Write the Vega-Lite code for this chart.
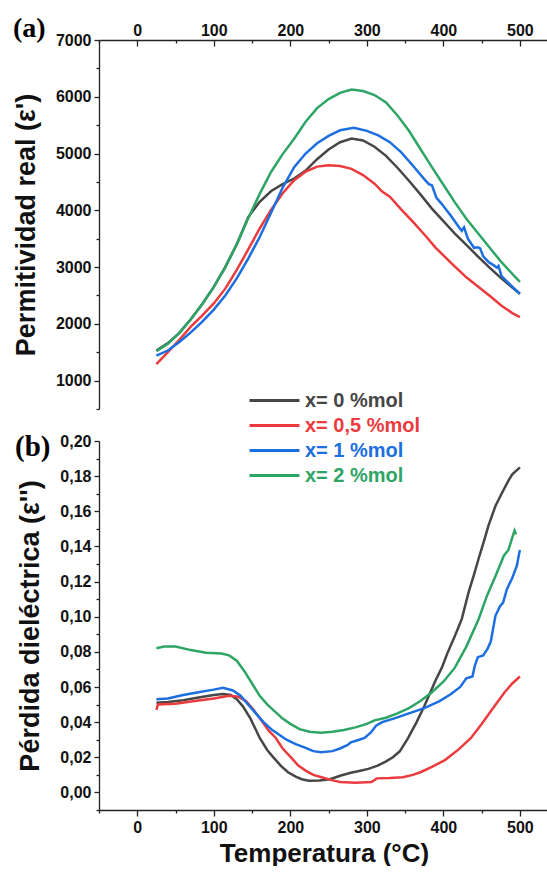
{
  "$schema": "https://vega.github.io/schema/vega-lite/v6.json",
  "background": "white",
  "padding": {"left": 12, "top": 15, "right": 0, "bottom": 0},
  "spacing": 32,
  "bounds": "flush",
  "config": {
    "view": {"stroke": null},
    "axis": {"labelFont": "Liberation Sans", "labelFontWeight": "bold", "labelFontSize": 16, "labelColor": "#111", "titleFont": "Liberation Sans", "titleFontWeight": "bold", "titleFontSize": 27, "titleColor": "#111", "domainColor": "#222", "tickColor": "#222", "domainWidth": 1.3, "tickWidth": 1.3, "grid": false}
  },
  "resolve": {"scale": {"color": "independent"}},
  "datasets": {
    "perm": [
      {"s":"x= 0 %mol","T":25,"v":1530},{"s":"x= 0 %mol","T":40,"v":1660},{"s":"x= 0 %mol","T":55,"v":1840},{"s":"x= 0 %mol","T":70,"v":2080},{"s":"x= 0 %mol","T":85,"v":2350},{"s":"x= 0 %mol","T":100,"v":2650},{"s":"x= 0 %mol","T":115,"v":3000},{"s":"x= 0 %mol","T":130,"v":3400},{"s":"x= 0 %mol","T":145,"v":3880},{"s":"x= 0 %mol","T":160,"v":4150},{"s":"x= 0 %mol","T":175,"v":4340},{"s":"x= 0 %mol","T":190,"v":4460},{"s":"x= 0 %mol","T":205,"v":4560},{"s":"x= 0 %mol","T":220,"v":4700},{"s":"x= 0 %mol","T":235,"v":4900},{"s":"x= 0 %mol","T":250,"v":5070},{"s":"x= 0 %mol","T":265,"v":5200},{"s":"x= 0 %mol","T":280,"v":5263},{"s":"x= 0 %mol","T":295,"v":5230},{"s":"x= 0 %mol","T":310,"v":5120},{"s":"x= 0 %mol","T":325,"v":4960},{"s":"x= 0 %mol","T":340,"v":4750},{"s":"x= 0 %mol","T":355,"v":4520},{"s":"x= 0 %mol","T":370,"v":4280},{"s":"x= 0 %mol","T":385,"v":4030},{"s":"x= 0 %mol","T":400,"v":3810},{"s":"x= 0 %mol","T":415,"v":3590},{"s":"x= 0 %mol","T":430,"v":3390},{"s":"x= 0 %mol","T":445,"v":3190},{"s":"x= 0 %mol","T":460,"v":2995},{"s":"x= 0 %mol","T":475,"v":2810},{"s":"x= 0 %mol","T":490,"v":2640},{"s":"x= 0 %mol","T":500,"v":2530},
      {"s":"x= 0,5 %mol","T":25,"v":1290},{"s":"x= 0,5 %mol","T":40,"v":1500},{"s":"x= 0,5 %mol","T":55,"v":1720},{"s":"x= 0,5 %mol","T":70,"v":1950},{"s":"x= 0,5 %mol","T":85,"v":2150},{"s":"x= 0,5 %mol","T":100,"v":2360},{"s":"x= 0,5 %mol","T":115,"v":2620},{"s":"x= 0,5 %mol","T":130,"v":2950},{"s":"x= 0,5 %mol","T":145,"v":3310},{"s":"x= 0,5 %mol","T":160,"v":3680},{"s":"x= 0,5 %mol","T":175,"v":4010},{"s":"x= 0,5 %mol","T":190,"v":4300},{"s":"x= 0,5 %mol","T":205,"v":4530},{"s":"x= 0,5 %mol","T":220,"v":4680},{"s":"x= 0,5 %mol","T":235,"v":4770},{"s":"x= 0,5 %mol","T":250,"v":4795},{"s":"x= 0,5 %mol","T":265,"v":4780},{"s":"x= 0,5 %mol","T":280,"v":4730},{"s":"x= 0,5 %mol","T":295,"v":4620},{"s":"x= 0,5 %mol","T":310,"v":4470},{"s":"x= 0,5 %mol","T":320,"v":4330},{"s":"x= 0,5 %mol","T":330,"v":4240},{"s":"x= 0,5 %mol","T":346,"v":4000},{"s":"x= 0,5 %mol","T":360,"v":3800},{"s":"x= 0,5 %mol","T":376,"v":3560},{"s":"x= 0,5 %mol","T":390,"v":3340},{"s":"x= 0,5 %mol","T":411,"v":3060},{"s":"x= 0,5 %mol","T":430,"v":2820},{"s":"x= 0,5 %mol","T":446,"v":2650},{"s":"x= 0,5 %mol","T":460,"v":2500},{"s":"x= 0,5 %mol","T":476,"v":2320},{"s":"x= 0,5 %mol","T":490,"v":2190},{"s":"x= 0,5 %mol","T":500,"v":2120},
      {"s":"x= 1 %mol","T":25,"v":1440},{"s":"x= 1 %mol","T":40,"v":1530},{"s":"x= 1 %mol","T":55,"v":1680},{"s":"x= 1 %mol","T":70,"v":1850},{"s":"x= 1 %mol","T":85,"v":2040},{"s":"x= 1 %mol","T":100,"v":2250},{"s":"x= 1 %mol","T":115,"v":2500},{"s":"x= 1 %mol","T":130,"v":2800},{"s":"x= 1 %mol","T":145,"v":3150},{"s":"x= 1 %mol","T":160,"v":3530},{"s":"x= 1 %mol","T":175,"v":3960},{"s":"x= 1 %mol","T":190,"v":4400},{"s":"x= 1 %mol","T":205,"v":4760},{"s":"x= 1 %mol","T":220,"v":5000},{"s":"x= 1 %mol","T":235,"v":5180},{"s":"x= 1 %mol","T":250,"v":5310},{"s":"x= 1 %mol","T":265,"v":5410},{"s":"x= 1 %mol","T":283,"v":5455},{"s":"x= 1 %mol","T":300,"v":5400},{"s":"x= 1 %mol","T":315,"v":5320},{"s":"x= 1 %mol","T":330,"v":5200},{"s":"x= 1 %mol","T":345,"v":5020},{"s":"x= 1 %mol","T":360,"v":4790},{"s":"x= 1 %mol","T":375,"v":4550},{"s":"x= 1 %mol","T":381,"v":4460},{"s":"x= 1 %mol","T":385,"v":4440},{"s":"x= 1 %mol","T":391,"v":4220},{"s":"x= 1 %mol","T":398,"v":4110},{"s":"x= 1 %mol","T":410,"v":3900},{"s":"x= 1 %mol","T":420,"v":3710},{"s":"x= 1 %mol","T":424,"v":3640},{"s":"x= 1 %mol","T":427,"v":3700},{"s":"x= 1 %mol","T":432,"v":3500},{"s":"x= 1 %mol","T":440,"v":3340},{"s":"x= 1 %mol","T":445,"v":3350},{"s":"x= 1 %mol","T":448,"v":3330},{"s":"x= 1 %mol","T":452,"v":3190},{"s":"x= 1 %mol","T":459,"v":3090},{"s":"x= 1 %mol","T":466,"v":3030},{"s":"x= 1 %mol","T":470,"v":2990},{"s":"x= 1 %mol","T":472,"v":3020},{"s":"x= 1 %mol","T":476,"v":2840},{"s":"x= 1 %mol","T":485,"v":2720},{"s":"x= 1 %mol","T":492,"v":2630},{"s":"x= 1 %mol","T":500,"v":2530},
      {"s":"x= 2 %mol","T":25,"v":1520},{"s":"x= 2 %mol","T":40,"v":1650},{"s":"x= 2 %mol","T":55,"v":1840},{"s":"x= 2 %mol","T":70,"v":2080},{"s":"x= 2 %mol","T":85,"v":2350},{"s":"x= 2 %mol","T":100,"v":2650},{"s":"x= 2 %mol","T":115,"v":3000},{"s":"x= 2 %mol","T":130,"v":3400},{"s":"x= 2 %mol","T":145,"v":3860},{"s":"x= 2 %mol","T":160,"v":4290},{"s":"x= 2 %mol","T":175,"v":4680},{"s":"x= 2 %mol","T":190,"v":4990},{"s":"x= 2 %mol","T":205,"v":5260},{"s":"x= 2 %mol","T":220,"v":5560},{"s":"x= 2 %mol","T":235,"v":5800},{"s":"x= 2 %mol","T":250,"v":5960},{"s":"x= 2 %mol","T":265,"v":6070},{"s":"x= 2 %mol","T":280,"v":6127},{"s":"x= 2 %mol","T":295,"v":6100},{"s":"x= 2 %mol","T":310,"v":6030},{"s":"x= 2 %mol","T":325,"v":5900},{"s":"x= 2 %mol","T":340,"v":5670},{"s":"x= 2 %mol","T":355,"v":5400},{"s":"x= 2 %mol","T":370,"v":5080},{"s":"x= 2 %mol","T":385,"v":4760},{"s":"x= 2 %mol","T":400,"v":4450},{"s":"x= 2 %mol","T":415,"v":4140},{"s":"x= 2 %mol","T":430,"v":3850},{"s":"x= 2 %mol","T":445,"v":3600},{"s":"x= 2 %mol","T":460,"v":3350},{"s":"x= 2 %mol","T":475,"v":3100},{"s":"x= 2 %mol","T":490,"v":2880},{"s":"x= 2 %mol","T":500,"v":2740}
    ],
    "loss": [
      {"s":"x= 0 %mol","T":25,"v":0.051},{"s":"x= 0 %mol","T":40,"v":0.0515},{"s":"x= 0 %mol","T":60,"v":0.0525},{"s":"x= 0 %mol","T":80,"v":0.054},{"s":"x= 0 %mol","T":100,"v":0.0555},{"s":"x= 0 %mol","T":112,"v":0.056},{"s":"x= 0 %mol","T":122,"v":0.0555},{"s":"x= 0 %mol","T":130,"v":0.053},{"s":"x= 0 %mol","T":138,"v":0.049},{"s":"x= 0 %mol","T":148,"v":0.042},{"s":"x= 0 %mol","T":160,"v":0.031},{"s":"x= 0 %mol","T":170,"v":0.024},{"s":"x= 0 %mol","T":179,"v":0.0194},{"s":"x= 0 %mol","T":188,"v":0.015},{"s":"x= 0 %mol","T":197,"v":0.0115},{"s":"x= 0 %mol","T":207,"v":0.009},{"s":"x= 0 %mol","T":215,"v":0.0075},{"s":"x= 0 %mol","T":224,"v":0.0066},{"s":"x= 0 %mol","T":238,"v":0.0068},{"s":"x= 0 %mol","T":252,"v":0.0075},{"s":"x= 0 %mol","T":265,"v":0.0095},{"s":"x= 0 %mol","T":279,"v":0.0112},{"s":"x= 0 %mol","T":290,"v":0.0122},{"s":"x= 0 %mol","T":302,"v":0.0134},{"s":"x= 0 %mol","T":314,"v":0.0152},{"s":"x= 0 %mol","T":324,"v":0.0174},{"s":"x= 0 %mol","T":334,"v":0.02},{"s":"x= 0 %mol","T":343,"v":0.0234},{"s":"x= 0 %mol","T":354,"v":0.031},{"s":"x= 0 %mol","T":365,"v":0.04},{"s":"x= 0 %mol","T":375,"v":0.049},{"s":"x= 0 %mol","T":383,"v":0.057},{"s":"x= 0 %mol","T":390,"v":0.064},{"s":"x= 0 %mol","T":398,"v":0.071},{"s":"x= 0 %mol","T":405,"v":0.079},{"s":"x= 0 %mol","T":415,"v":0.089},{"s":"x= 0 %mol","T":424,"v":0.0986},{"s":"x= 0 %mol","T":433,"v":0.114},{"s":"x= 0 %mol","T":440,"v":0.124},{"s":"x= 0 %mol","T":446,"v":0.133},{"s":"x= 0 %mol","T":453,"v":0.143},{"s":"x= 0 %mol","T":459,"v":0.152},{"s":"x= 0 %mol","T":468,"v":0.163},{"s":"x= 0 %mol","T":476,"v":0.17},{"s":"x= 0 %mol","T":485,"v":0.1774},{"s":"x= 0 %mol","T":490,"v":0.181},{"s":"x= 0 %mol","T":495,"v":0.183},{"s":"x= 0 %mol","T":500,"v":0.185},
      {"s":"x= 0,5 %mol","T":25,"v":0.047},{"s":"x= 0,5 %mol","T":27,"v":0.05},{"s":"x= 0,5 %mol","T":50,"v":0.0505},{"s":"x= 0,5 %mol","T":75,"v":0.052},{"s":"x= 0,5 %mol","T":100,"v":0.0535},{"s":"x= 0,5 %mol","T":120,"v":0.055},{"s":"x= 0,5 %mol","T":132,"v":0.0545},{"s":"x= 0,5 %mol","T":142,"v":0.052},{"s":"x= 0,5 %mol","T":152,"v":0.047},{"s":"x= 0,5 %mol","T":162,"v":0.041},{"s":"x= 0,5 %mol","T":172,"v":0.035},{"s":"x= 0,5 %mol","T":181,"v":0.031},{"s":"x= 0,5 %mol","T":190,"v":0.025},{"s":"x= 0,5 %mol","T":202,"v":0.0194},{"s":"x= 0,5 %mol","T":210,"v":0.0155},{"s":"x= 0,5 %mol","T":220,"v":0.0124},{"s":"x= 0,5 %mol","T":230,"v":0.01},{"s":"x= 0,5 %mol","T":242,"v":0.0085},{"s":"x= 0,5 %mol","T":254,"v":0.007},{"s":"x= 0,5 %mol","T":265,"v":0.006},{"s":"x= 0,5 %mol","T":285,"v":0.0055},{"s":"x= 0,5 %mol","T":306,"v":0.0059},{"s":"x= 0,5 %mol","T":313,"v":0.008},{"s":"x= 0,5 %mol","T":330,"v":0.0082},{"s":"x= 0,5 %mol","T":347,"v":0.0086},{"s":"x= 0,5 %mol","T":360,"v":0.01},{"s":"x= 0,5 %mol","T":370,"v":0.0115},{"s":"x= 0,5 %mol","T":385,"v":0.0145},{"s":"x= 0,5 %mol","T":402,"v":0.0184},{"s":"x= 0,5 %mol","T":420,"v":0.0245},{"s":"x= 0,5 %mol","T":436,"v":0.031},{"s":"x= 0,5 %mol","T":450,"v":0.039},{"s":"x= 0,5 %mol","T":465,"v":0.048},{"s":"x= 0,5 %mol","T":480,"v":0.057},{"s":"x= 0,5 %mol","T":490,"v":0.062},{"s":"x= 0,5 %mol","T":500,"v":0.066},
      {"s":"x= 1 %mol","T":25,"v":0.053},{"s":"x= 1 %mol","T":40,"v":0.0535},{"s":"x= 1 %mol","T":60,"v":0.0555},{"s":"x= 1 %mol","T":80,"v":0.057},{"s":"x= 1 %mol","T":100,"v":0.0585},{"s":"x= 1 %mol","T":112,"v":0.0595},{"s":"x= 1 %mol","T":125,"v":0.058},{"s":"x= 1 %mol","T":135,"v":0.055},{"s":"x= 1 %mol","T":145,"v":0.05},{"s":"x= 1 %mol","T":155,"v":0.045},{"s":"x= 1 %mol","T":165,"v":0.04},{"s":"x= 1 %mol","T":175,"v":0.036},{"s":"x= 1 %mol","T":185,"v":0.033},{"s":"x= 1 %mol","T":195,"v":0.03},{"s":"x= 1 %mol","T":207,"v":0.0275},{"s":"x= 1 %mol","T":220,"v":0.0254},{"s":"x= 1 %mol","T":230,"v":0.0235},{"s":"x= 1 %mol","T":240,"v":0.0229},{"s":"x= 1 %mol","T":255,"v":0.0235},{"s":"x= 1 %mol","T":265,"v":0.025},{"s":"x= 1 %mol","T":275,"v":0.027},{"s":"x= 1 %mol","T":279,"v":0.0285},{"s":"x= 1 %mol","T":290,"v":0.03},{"s":"x= 1 %mol","T":297,"v":0.031},{"s":"x= 1 %mol","T":305,"v":0.034},{"s":"x= 1 %mol","T":312,"v":0.038},{"s":"x= 1 %mol","T":320,"v":0.04},{"s":"x= 1 %mol","T":335,"v":0.042},{"s":"x= 1 %mol","T":355,"v":0.045},{"s":"x= 1 %mol","T":375,"v":0.048},{"s":"x= 1 %mol","T":395,"v":0.052},{"s":"x= 1 %mol","T":410,"v":0.056},{"s":"x= 1 %mol","T":422,"v":0.06},{"s":"x= 1 %mol","T":430,"v":0.065},{"s":"x= 1 %mol","T":438,"v":0.066},{"s":"x= 1 %mol","T":441,"v":0.072},{"s":"x= 1 %mol","T":445,"v":0.077},{"s":"x= 1 %mol","T":452,"v":0.078},{"s":"x= 1 %mol","T":458,"v":0.082},{"s":"x= 1 %mol","T":462,"v":0.086},{"s":"x= 1 %mol","T":468,"v":0.1005},{"s":"x= 1 %mol","T":474,"v":0.106},{"s":"x= 1 %mol","T":478,"v":0.108},{"s":"x= 1 %mol","T":483,"v":0.1157},{"s":"x= 1 %mol","T":490,"v":0.122},{"s":"x= 1 %mol","T":496,"v":0.129},{"s":"x= 1 %mol","T":499,"v":0.136},{"s":"x= 1 %mol","T":500,"v":0.138},
      {"s":"x= 2 %mol","T":25,"v":0.082},{"s":"x= 2 %mol","T":35,"v":0.083},{"s":"x= 2 %mol","T":50,"v":0.083},{"s":"x= 2 %mol","T":70,"v":0.081},{"s":"x= 2 %mol","T":90,"v":0.0795},{"s":"x= 2 %mol","T":110,"v":0.079},{"s":"x= 2 %mol","T":120,"v":0.078},{"s":"x= 2 %mol","T":130,"v":0.075},{"s":"x= 2 %mol","T":140,"v":0.069},{"s":"x= 2 %mol","T":150,"v":0.062},{"s":"x= 2 %mol","T":160,"v":0.055},{"s":"x= 2 %mol","T":170,"v":0.05},{"s":"x= 2 %mol","T":180,"v":0.046},{"s":"x= 2 %mol","T":190,"v":0.042},{"s":"x= 2 %mol","T":200,"v":0.039},{"s":"x= 2 %mol","T":212,"v":0.036},{"s":"x= 2 %mol","T":225,"v":0.0345},{"s":"x= 2 %mol","T":240,"v":0.034},{"s":"x= 2 %mol","T":255,"v":0.0345},{"s":"x= 2 %mol","T":270,"v":0.0355},{"s":"x= 2 %mol","T":285,"v":0.037},{"s":"x= 2 %mol","T":300,"v":0.039},{"s":"x= 2 %mol","T":310,"v":0.041},{"s":"x= 2 %mol","T":325,"v":0.0425},{"s":"x= 2 %mol","T":340,"v":0.045},{"s":"x= 2 %mol","T":355,"v":0.048},{"s":"x= 2 %mol","T":370,"v":0.052},{"s":"x= 2 %mol","T":385,"v":0.057},{"s":"x= 2 %mol","T":400,"v":0.063},{"s":"x= 2 %mol","T":415,"v":0.071},{"s":"x= 2 %mol","T":430,"v":0.083},{"s":"x= 2 %mol","T":446,"v":0.0986},{"s":"x= 2 %mol","T":457,"v":0.112},{"s":"x= 2 %mol","T":468,"v":0.123},{"s":"x= 2 %mol","T":479,"v":0.1347},{"s":"x= 2 %mol","T":485,"v":0.138},{"s":"x= 2 %mol","T":490,"v":0.145},{"s":"x= 2 %mol","T":493,"v":0.149},{"s":"x= 2 %mol","T":495,"v":0.147}
    ]
  },
  "vconcat": [
    {
      "width": 450,
      "height": 369,
      "title": {"text": "(a)", "anchor": "start", "frame": "group", "font": "Liberation Serif", "fontSize": 28, "fontWeight": "bold", "color": "#000", "dx": -86, "dy": 21, "offset": 0},
      "data": {"name": "perm"},
      "layer": [
        {
          "mark": {"type": "line", "strokeWidth": 2.5},
          "encoding": {
            "x": {"field": "T", "type": "quantitative", "scale": {"domain": [-50, 538], "nice": false, "zero": false}, "axis": {"orient": "top", "values": [0, 100, 200, 300, 400, 500], "tickSize": -6, "labelPadding": 8, "title": null}},
            "y": {"field": "v", "type": "quantitative", "scale": {"domain": [500, 7000], "nice": false, "zero": false}, "axis": {"orient": "left", "values": [1000, 2000, 3000, 4000, 5000, 6000, 7000], "format": "d", "tickSize": 5, "labelPadding": 3, "title": "Permitividad real (ε')", "titlePadding": 15}},
            "color": {"field": "s", "type": "nominal", "scale": {"domain": ["x= 0 %mol", "x= 0,5 %mol", "x= 1 %mol", "x= 2 %mol"], "range": ["#464646", "#ec3b3f", "#1c6fe0", "#2ea565"]}, "legend": null}
          }
        },
        {
          "mark": {"type": "line", "opacity": 0},
          "encoding": {
            "x": {"field": "T", "type": "quantitative", "scale": {"domain": [-50, 538], "nice": false, "zero": false}, "axis": {"orient": "top", "values": [-50, 50, 150, 250, 350, 450], "labels": false, "domain": false, "tickSize": -3, "title": null}},
            "y": {"field": "v", "type": "quantitative", "scale": {"domain": [500, 7000], "nice": false, "zero": false}, "axis": {"orient": "left", "values": [500, 1500, 2500, 3500, 4500, 5500, 6500], "labels": false, "domain": false, "tickSize": 3, "title": null}},
            "detail": {"field": "s"}
          }
        }
      ],
      "resolve": {"axis": {"x": "independent", "y": "independent"}}
    },
    {
      "width": 450,
      "height": 369,
      "title": {"text": "(b)", "anchor": "start", "frame": "group", "font": "Liberation Serif", "fontSize": 29, "fontWeight": "bold", "color": "#000", "dx": -84, "dy": 73, "offset": 0},
      "data": {"name": "loss"},
      "layer": [
        {
          "mark": {"type": "line", "strokeWidth": 2.5},
          "encoding": {
            "x": {"field": "T", "type": "quantitative", "scale": {"domain": [-50, 538], "nice": false, "zero": false}, "axis": {"orient": "bottom", "values": [0, 100, 200, 300, 400, 500], "tickSize": 6, "labelPadding": 3, "title": "Temperatura (°C)", "titlePadding": 5, "titleFontSize": 26}},
            "y": {"field": "v", "type": "quantitative", "scale": {"domain": [-0.01, 0.2], "nice": false, "zero": false}, "axis": {"orient": "left", "values": [0, 0.02, 0.04, 0.06, 0.08, 0.1, 0.12, 0.14, 0.16, 0.18, 0.2], "labelExpr": "replace(format(datum.value, '.2f'), '.', ',')", "tickSize": 5, "labelPadding": 3, "title": "Pérdida dieléctrica (ε'')", "titlePadding": 15}},
            "color": {"field": "s", "type": "nominal", "scale": {"domain": ["x= 0 %mol", "x= 0,5 %mol", "x= 1 %mol", "x= 2 %mol"], "range": ["#464646", "#ec3b3f", "#1c6fe0", "#2ea565"]},
              "legend": {"orient": "none", "legendX": 164, "legendY": -52, "title": null, "padding": 0, "symbolType": "M-2.5,0H2.5", "symbolSize": 400, "symbolStrokeWidth": 3, "labelFont": "Liberation Sans", "labelFontWeight": "bold", "labelFontSize": 20, "labelOffset": 19, "rowPadding": 3,
                "labelColor": {"expr": "datum.value == 'x= 0 %mol' ? '#464646' : datum.value == 'x= 0,5 %mol' ? '#ec3b3f' : datum.value == 'x= 1 %mol' ? '#1c6fe0' : '#2ea565'"}}}
          }
        },
        {
          "mark": {"type": "line", "opacity": 0},
          "encoding": {
            "x": {"field": "T", "type": "quantitative", "scale": {"domain": [-50, 538], "nice": false, "zero": false}, "axis": {"orient": "bottom", "values": [-50, 50, 150, 250, 350, 450], "labels": false, "domain": false, "tickSize": 3, "title": null}},
            "y": {"field": "v", "type": "quantitative", "scale": {"domain": [-0.01, 0.2], "nice": false, "zero": false}, "axis": {"orient": "left", "values": [-0.01, 0.01, 0.03, 0.05, 0.07, 0.09, 0.11, 0.13, 0.15, 0.17, 0.19], "labels": false, "domain": false, "tickSize": 3, "title": null}},
            "detail": {"field": "s"}
          }
        }
      ],
      "resolve": {"axis": {"x": "independent", "y": "independent"}}
    }
  ]
}
